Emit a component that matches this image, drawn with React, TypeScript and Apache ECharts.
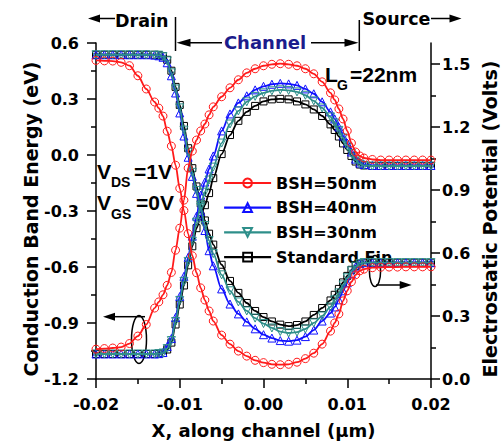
import React, { useEffect, useRef } from 'react';
import * as echarts from 'echarts';

// x positions (µm) at which the curves were read
const X = [-0.020,-0.019,-0.018,-0.017,-0.016,-0.015,-0.014,-0.013,
  -0.0125,-0.012,-0.0115,-0.011,-0.0105,-0.010,-0.0095,-0.009,-0.0085,-0.008,-0.0075,-0.007,-0.0065,-0.006,
  -0.005,-0.004,-0.003,-0.002,-0.001,0.000,0.001,0.002,0.003,0.004,0.005,0.006,0.007,0.008,
  0.0085,0.009,0.0095,0.010,0.0105,0.011,0.0115,
  0.012,0.013,0.014,0.015,0.016,0.017,0.018,0.019,0.020];

// Electrostatic potential (V, right axis)
const RED_POT = [1.517,1.515,1.514,1.508,1.492,1.444,1.381,1.319,
  1.290,1.252,1.180,1.109,1.018,0.908,0.802,0.692,0.587,0.506,0.434,0.376,0.324,0.276,
  0.209,0.166,0.133,0.109,0.089,0.078,0.070,0.068,0.070,0.080,0.097,0.123,0.166,0.228,
  0.267,0.310,0.372,0.420,0.463,0.496,0.515,
  0.523,0.530,0.532,0.533,0.533,0.534,0.534,0.534,0.534];
const BLUE_POT = [1.544,1.544,1.544,1.544,1.544,1.544,1.544,1.542,
  1.539,1.532,1.506,1.444,1.362,1.267,1.157,1.056,0.965,0.884,0.798,0.707,0.611,0.539,
  0.429,0.357,0.310,0.272,0.239,0.211,0.195,0.183,0.180,0.185,0.202,0.233,0.276,0.314,
  0.343,0.377,0.420,0.458,0.501,0.534,0.549,
  0.554,0.554,0.554,0.554,0.554,0.554,0.554,0.554,0.554];
const TEAL_POT = [1.544,1.544,1.544,1.544,1.544,1.544,1.544,1.542,
  1.542,1.535,1.515,1.458,1.381,1.291,1.185,1.080,0.984,0.898,0.817,0.731,0.659,0.597,
  0.496,0.420,0.367,0.324,0.290,0.264,0.243,0.226,0.219,0.223,0.238,0.267,0.300,0.343,
  0.377,0.410,0.448,0.482,0.515,0.537,0.549,
  0.554,0.554,0.554,0.554,0.554,0.554,0.554,0.554,0.554];
const BLACK_POT = [1.544,1.544,1.544,1.544,1.544,1.544,1.544,1.544,
  1.542,1.537,1.520,1.468,1.391,1.305,1.205,1.099,1.004,0.917,0.836,0.755,0.692,0.640,
  0.544,0.467,0.410,0.362,0.324,0.295,0.274,0.259,0.252,0.257,0.274,0.305,0.338,0.374,
  0.401,0.429,0.460,0.491,0.520,0.539,0.549,
  0.554,0.554,0.554,0.554,0.554,0.554,0.554,0.554,0.554];

// Conduction band energy (eV, left axis)
const RED_CB = [-1.040,-1.037,-1.034,-1.029,-1.010,-0.970,-0.908,-0.820,
  -0.787,-0.749,-0.698,-0.629,-0.510,-0.392,-0.242,-0.070,0.021,0.080,0.129,0.166,0.215,0.258,
  0.312,0.360,0.403,0.440,0.462,0.478,0.486,0.489,0.486,0.478,0.462,0.435,0.392,0.333,
  0.295,0.247,0.193,0.129,0.064,0.016,-0.005,
  -0.016,-0.024,-0.027,-0.027,-0.027,-0.027,-0.027,-0.027,-0.027];
const BLUE_CB = [-1.066,-1.066,-1.066,-1.066,-1.066,-1.066,-1.066,-1.066,
  -1.064,-1.058,-1.026,-0.983,-0.870,-0.758,-0.650,-0.548,-0.435,-0.328,-0.215,-0.145,-0.075,-0.005,
  0.129,0.220,0.279,0.317,0.349,0.368,0.379,0.384,0.381,0.373,0.354,0.328,0.285,0.231,
  0.193,0.150,0.102,0.064,0.016,-0.022,-0.043,
  -0.051,-0.056,-0.056,-0.056,-0.056,-0.056,-0.056,-0.056,-0.056];
const TEAL_CB = [-1.066,-1.066,-1.066,-1.066,-1.066,-1.066,-1.066,-1.066,
  -1.064,-1.061,-1.037,-0.994,-0.892,-0.779,-0.677,-0.570,-0.462,-0.360,-0.269,-0.199,-0.134,-0.065,
  0.064,0.166,0.236,0.285,0.314,0.333,0.344,0.349,0.346,0.338,0.320,0.290,0.252,0.204,
  0.172,0.132,0.091,0.048,0.008,-0.027,-0.048,
  -0.056,-0.059,-0.059,-0.059,-0.059,-0.059,-0.059,-0.059,-0.059];
const BLACK_CB = [-1.066,-1.066,-1.066,-1.066,-1.066,-1.066,-1.066,-1.066,
  -1.064,-1.061,-1.042,-1.005,-0.908,-0.801,-0.699,-0.591,-0.489,-0.392,-0.328,-0.269,-0.204,-0.124,
  0.005,0.107,0.183,0.231,0.263,0.287,0.298,0.301,0.298,0.287,0.271,0.244,0.209,0.164,
  0.134,0.099,0.062,0.027,-0.005,-0.035,-0.051,
  -0.056,-0.059,-0.059,-0.059,-0.059,-0.059,-0.059,-0.059,-0.059];

const LEGEND = ['BSH=50nm', 'BSH=40nm', 'BSH=30nm', 'Standard Fin'];
const RIGHT_MAJOR = [0, 0.3, 0.6, 0.9, 1.2, 1.5];
const RIGHT_MINOR = [0.15, 0.45, 0.75, 1.05, 1.35];

const RED = '#ff1a1a';
const BLUE = '#1010ff';
const TEAL = '#2e8f8a';
const BLACK = '#000000';
const NAVY = '#1c1c8c';
const FT = '"DejaVu Sans", sans-serif';
const FA = '"Liberation Sans", Arial, sans-serif';

function fmt(d: number) {
  return (v: number) => (Math.abs(v) < 1e-9 ? 0 : v).toFixed(d);
}

function line(name: string, color: string, symbol: string, rot: number, size: number, yIdx: number, ys: number[], z: number) {
  return {
    type: 'line', name, yAxisIndex: yIdx, z,
    data: X.map((x, i) => [x, ys[i]]),
    smooth: 0.3, smoothMonotone: 'x',
    symbol, symbolSize: size, symbolRotate: rot, showAllSymbol: true,
    lineStyle: { color, width: 1.8 },
    itemStyle: { color: 'rgba(255,255,255,0)', borderColor: color, borderWidth: 1 },
    emphasis: { disabled: true },
  };
}

const axisStroke = { color: '#000', width: 1.5 };

function txt(x: number, y: number, text: string, size: number, family: string, fill = '#000', align = 'left', rotation = 0) {
  return {
    type: 'text', x, y, rotation,
    style: { text, fill, fontSize: size, fontWeight: 'bold', fontFamily: family, align, textAlign: align, verticalAlign: 'middle', textVerticalAlign: 'middle' },
  };
}
function seg(x1: number, y1: number, x2: number, y2: number) {
  return { type: 'line', shape: { x1, y1, x2, y2 }, style: { stroke: '#000', lineWidth: 1.5 } };
}
function head(tipX: number, y: number, dir: number, len = 12, half = 4, fill = '#000') {
  return { type: 'polygon', shape: { points: [[tipX, y], [tipX - dir * len, y - half], [tipX - dir * len, y + half]] }, style: { fill } };
}

export default function App() {
  const ref = useRef<HTMLDivElement>(null);
  useEffect(() => {
    if (!ref.current) return;
    const chart = echarts.init(ref.current, null, { renderer: 'svg' });
    const option: any = {
      animation: false,
      grid: { left: 96, right: 70, top: 43, bottom: 66 },
      xAxis: {
        type: 'value', min: -0.02, max: 0.02, interval: 0.01,
        axisLine: { onZero: false, lineStyle: axisStroke },
        axisTick: { length: 9, lineStyle: axisStroke },
        minorTick: { show: true, splitNumber: 2, length: 5, lineStyle: axisStroke },
        splitLine: { show: false },
        axisLabel: { margin: 17, color: '#000', fontSize: 16, fontWeight: 'bold', fontFamily: FT, formatter: fmt(2) },
        name: 'X, along channel (\u03bcm)', nameLocation: 'middle', nameGap: 42,
        nameTextStyle: { color: '#000', fontSize: 18, fontWeight: 'bold', fontFamily: FT },
      },
      yAxis: [
        {
          type: 'value', position: 'left', min: -1.2, max: 0.6, interval: 0.3,
          axisLine: { show: true, onZero: false, lineStyle: axisStroke },
          axisTick: { show: true, length: 9, lineStyle: axisStroke },
          minorTick: { show: true, splitNumber: 2, length: 5, lineStyle: axisStroke },
          splitLine: { show: false },
          axisLabel: { margin: 17, color: '#000', fontSize: 16, fontWeight: 'bold', fontFamily: FT, formatter: fmt(1) },
        },
        {
          type: 'value', position: 'right', min: 0, max: 1.6, interval: 0.3,
          axisLine: { show: true, onZero: false, lineStyle: axisStroke },
          axisTick: { show: true, length: 9, lineStyle: axisStroke, customValues: RIGHT_MAJOR },
          splitLine: { show: false },
          axisLabel: { margin: 11, color: '#000', fontSize: 16, fontWeight: 'bold', fontFamily: FT, customValues: RIGHT_MAJOR, formatter: fmt(1) },
        },
        {
          type: 'value', position: 'right', min: 0, max: 1.6,
          axisLine: { show: false, onZero: false },
          axisTick: { show: true, length: 5, lineStyle: axisStroke, customValues: RIGHT_MINOR },
          splitLine: { show: false },
          axisLabel: { show: false },
        },
      ],
      legend: {
        data: LEGEND, orient: 'vertical', left: 218, top: 170,
        itemWidth: 47, itemHeight: 11, itemGap: 8.7, selectedMode: false,
        textStyle: { color: '#000', fontSize: 16, fontWeight: 'bold', fontFamily: FT, lineHeight: 16 },
        lineStyle: { width: 2.2 },
      },
      graphic: [
        // Drain
        head(88, 18.5, -1), seg(99, 18.5, 115, 18.5), txt(115, 20.5, 'Drain', 17.5, FT),
        // Channel
        seg(175.5, 17, 175.5, 51), head(176.5, 42.7, -1, 14, 4), seg(189, 42.7, 222, 42.7),
        txt(265, 42.5, 'Channel', 18, FT, NAVY, 'center'),
        seg(311, 42.7, 346, 42.7), head(358.5, 42.7, 1, 14, 4), seg(359.3, 20, 359.3, 51),
        // Source
        txt(362.5, 19.2, 'Source', 17.5, FT), seg(431, 18.5, 450, 18.5), head(461.5, 18.5, 1),
        // L_G
        txt(325, 74, 'L', 21, FA), txt(337, 85, 'G', 14, FA), txt(350, 74, '=22nm', 21, FA),
        // V_DS, V_GS
        txt(97, 171, 'V', 21, FA), txt(111, 182, 'DS', 14, FA), txt(134, 171, '=1V', 21, FA),
        txt(97, 202, 'V', 21, FA), txt(111, 214, 'GS', 14, FA), txt(136, 202, '=0V', 21, FA),
        // left ellipse + arrow
        { type: 'ellipse', shape: { cx: 139, cy: 339.5, rx: 7.5, ry: 24 }, style: { fill: 'none', stroke: '#000', lineWidth: 1.5 } },
        seg(145, 316.7, 113, 316.7), head(103, 316.7, -1, 12, 4),
        // right ellipse + arrow
        { type: 'ellipse', shape: { cx: 375, cy: 271, rx: 5.6, ry: 15.5 }, style: { fill: 'none', stroke: '#000', lineWidth: 1.5 } },
        seg(376, 285, 401, 285), head(411.7, 285, 1, 12, 4),
        // axis titles
        txt(31, 219, 'Conduction Band Energy (eV)', 19, FT, '#000', 'center', Math.PI / 2),
        txt(490, 219, 'Electrostatic Potential (Volts)', 19, FT, '#000', 'center', Math.PI / 2),
      ],
      series: [
        line('BSH=50nm', RED, 'circle', 0, 8, 0, RED_CB, 5),
        line('BSH=40nm', BLUE, 'triangle', 0, 8, 0, BLUE_CB, 3),
        line('BSH=30nm', TEAL, 'triangle', 180, 8, 0, TEAL_CB, 4),
        line('Standard Fin', BLACK, 'rect', 0, 7, 0, BLACK_CB, 2),
        line('BSH=50nm', RED, 'circle', 0, 8, 1, RED_POT, 5),
        line('BSH=40nm', BLUE, 'triangle', 0, 8, 1, BLUE_POT, 3),
        line('BSH=30nm', TEAL, 'triangle', 180, 8, 1, TEAL_POT, 4),
        line('Standard Fin', BLACK, 'rect', 0, 7, 1, BLACK_POT, 2),
      ],
    };
    chart.setOption(option);
    return () => chart.dispose();
  }, []);
  return <div ref={ref} style={{ position: 'fixed', left: 0, top: 0, width: 501, height: 445, background: '#fff' }} />;
}
